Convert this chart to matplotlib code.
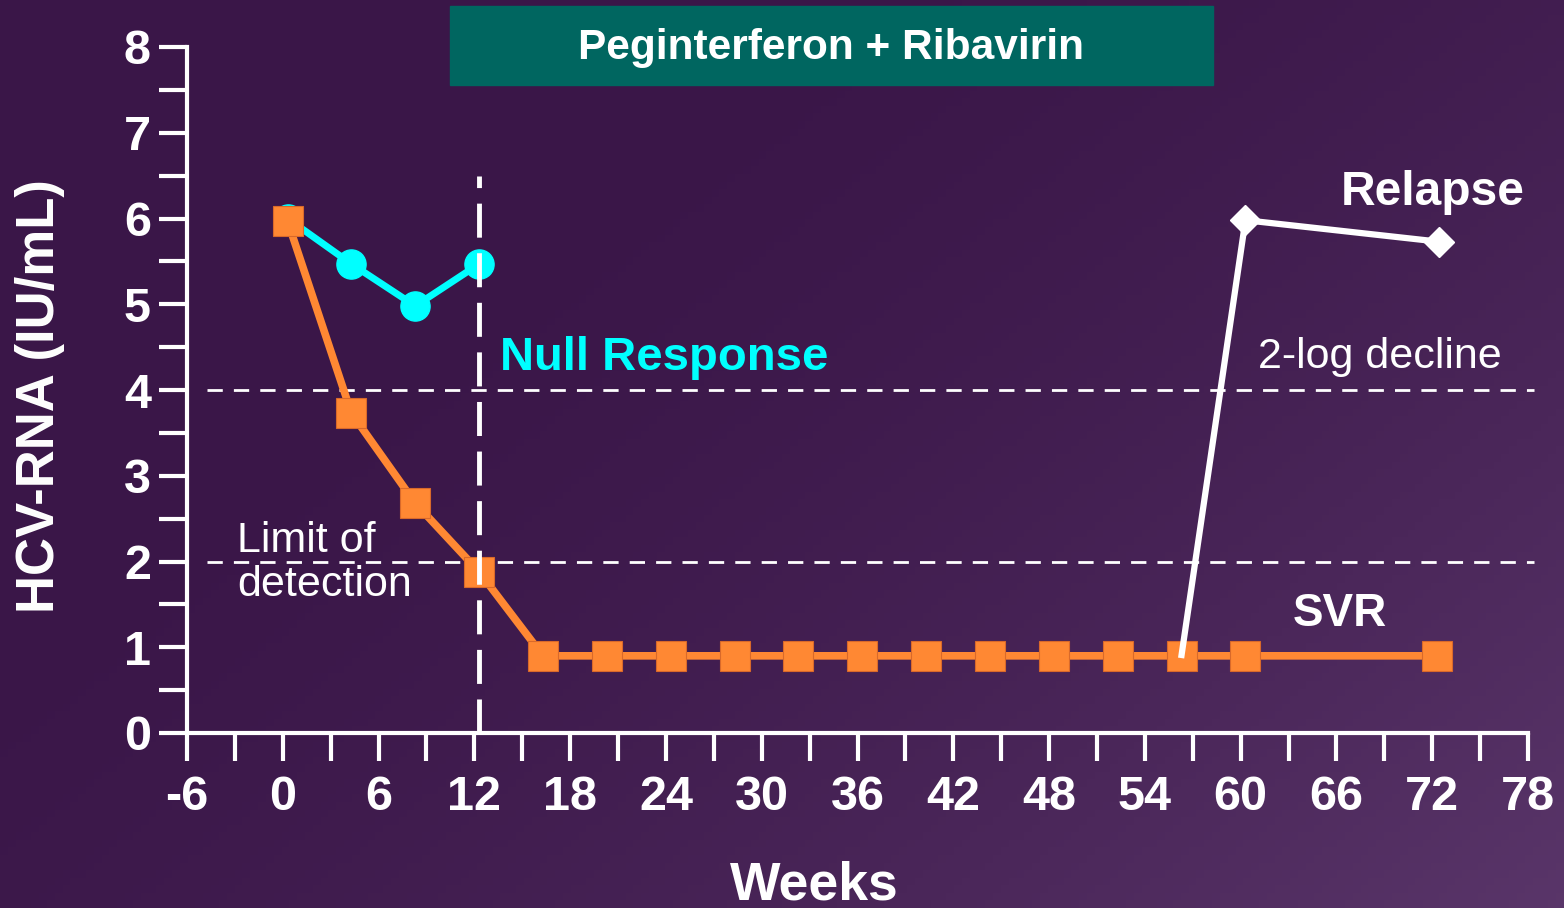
import numpy as np
import matplotlib.pyplot as plt
from matplotlib.patches import Rectangle

plt.rcParams['font.family'] = ['Liberation Sans', 'DejaVu Sans']
plt.rcParams['axes.unicode_minus'] = False

# data
weeks_svr = [0.3, 4.3, 8.3, 12.3, 16.3, 20.3, 24.3, 28.3, 32.3, 36.3, 40.3,
             44.3, 48.3, 52.3, 56.3, 60.3, 72.3]
rna_svr = [5.97, 3.73, 2.68, 1.88, 0.9, 0.9, 0.9, 0.9, 0.9, 0.9, 0.9,
           0.9, 0.9, 0.9, 0.9, 0.9, 0.9]
weeks_null = [0.3, 4.3, 8.3, 12.3]
rna_null = [6.0, 5.47, 4.98, 5.47]
weeks_relapse = [56.3, 60.3, 72.4]
rna_relapse = [0.91, 5.98, 5.73]
x_ticks = list(range(-6, 79, 6))
y_ticks = list(range(0, 9))

W, H = 1564, 908
fig = plt.figure(figsize=(W / 100, H / 100), dpi=100)

# purple gradient background
bg = fig.add_axes([0, 0, 1, 1], zorder=-10)
gx, gy = np.meshgrid(np.linspace(0, 1, 200), np.linspace(0, 1, 120))
t = np.clip((gx * 0.75 + gy * 0.55) - 0.35, 0, 1) ** 1.6
c0 = np.array([58, 22, 72]) / 255
c1 = np.array([92, 56, 108]) / 255
img = c0 + (c1 - c0) * t[..., None]
bg.imshow(img, aspect='auto', extent=[0, 1, 0, 1], origin='upper')
bg.axis('off')

ax = fig.add_axes([187 / W, 1 - 733 / H, (1528 - 187) / W, (733 - 47) / H])
ax.patch.set_alpha(0)

white = 'white'
orange = '#FF8833'
cyan = '#00FFFF'

# reference lines
ax.plot([-4.75, 78.4], [4, 4], color=white, lw=2, ls=(0, (5.5, 4)), clip_on=False, zorder=1)
ax.plot([-4.75, 78.4], [2, 2], color=white, lw=2, ls=(0, (5.5, 4)), clip_on=False, zorder=1)

ax.plot(weeks_null, rna_null, color=cyan, lw=5, marker='o', ms=21, zorder=3)
ax.plot(weeks_svr, rna_svr, color=orange, lw=5.5, marker='s', ms=21,
        mec='#D9692A', mew=0.8, zorder=4)
ax.plot(weeks_relapse, rna_relapse, color=white, lw=4.5, zorder=5)
ax.plot(weeks_relapse[1:], rna_relapse[1:], color=white, lw=0, marker='D', ms=15, zorder=5)

# week-12 vertical dashed line
ax.plot([12.3, 12.3], [0, 6.5], color=white, lw=3.5, ls=(0, (7, 3.2)), zorder=6)

ax.set_xlim(-6, 78)
ax.set_ylim(0, 8)
for s in ['top', 'right']:
    ax.spines[s].set_visible(False)
for s in ['left', 'bottom']:
    ax.spines[s].set_color(white)
    ax.spines[s].set_linewidth(3)

ax.set_xticks(x_ticks)
ax.set_xticks(list(range(-3, 78, 6)), minor=True)
ax.set_yticks(y_ticks)
ax.set_yticks([v + 0.5 for v in range(8)], minor=True)
ax.tick_params(axis='both', which='both', colors=white, width=3, length=20, direction='out')
ax.tick_params(axis='x', labelsize=35, pad=10)
ax.tick_params(axis='y', labelsize=35, pad=6)
for lab in ax.get_xticklabels() + ax.get_yticklabels():
    lab.set_fontweight('bold')
    lab.set_color(white)

fig.text(40 / W, 1 - 396 / H, 'HCV-RNA (IU/mL)', rotation=90, ha='center', va='center',
         fontsize=38, fontweight='bold', color=white)
fig.text(814 / W, 1 - 885 / H, 'Weeks', ha='center', va='center',
         fontsize=38.5, fontweight='bold', color=white)

# title box
fig.patches.append(Rectangle((450 / W, 1 - 85 / H), 763 / W, 79 / H,
                             transform=fig.transFigure, color='#006660', zorder=2))
fig.text(831 / W, 1 - 48 / H, 'Peginterferon + Ribavirin', ha='center', va='center',
         fontsize=30.5, fontweight='bold', color=white, zorder=3)

ax.text(13.6, 4.37, 'Null Response', color=cyan, fontsize=34, fontweight='bold',
        ha='left', va='center')
ax.text(72.0, 6.3, 'Relapse', color=white, fontsize=34.5, fontweight='bold',
        ha='center', va='center')
ax.text(66.2, 1.39, 'SVR', color=white, fontsize=33, fontweight='bold',
        ha='center', va='center')
ax.text(68.75, 4.38, '2-log decline', color=white, fontsize=31, ha='center', va='center')
ax.text(-2.85, 1.98, 'Limit of\ndetection', color=white, fontsize=31, ha='left', va='center',
        linespacing=1.12)

fig.savefig('out.png', dpi=100)
